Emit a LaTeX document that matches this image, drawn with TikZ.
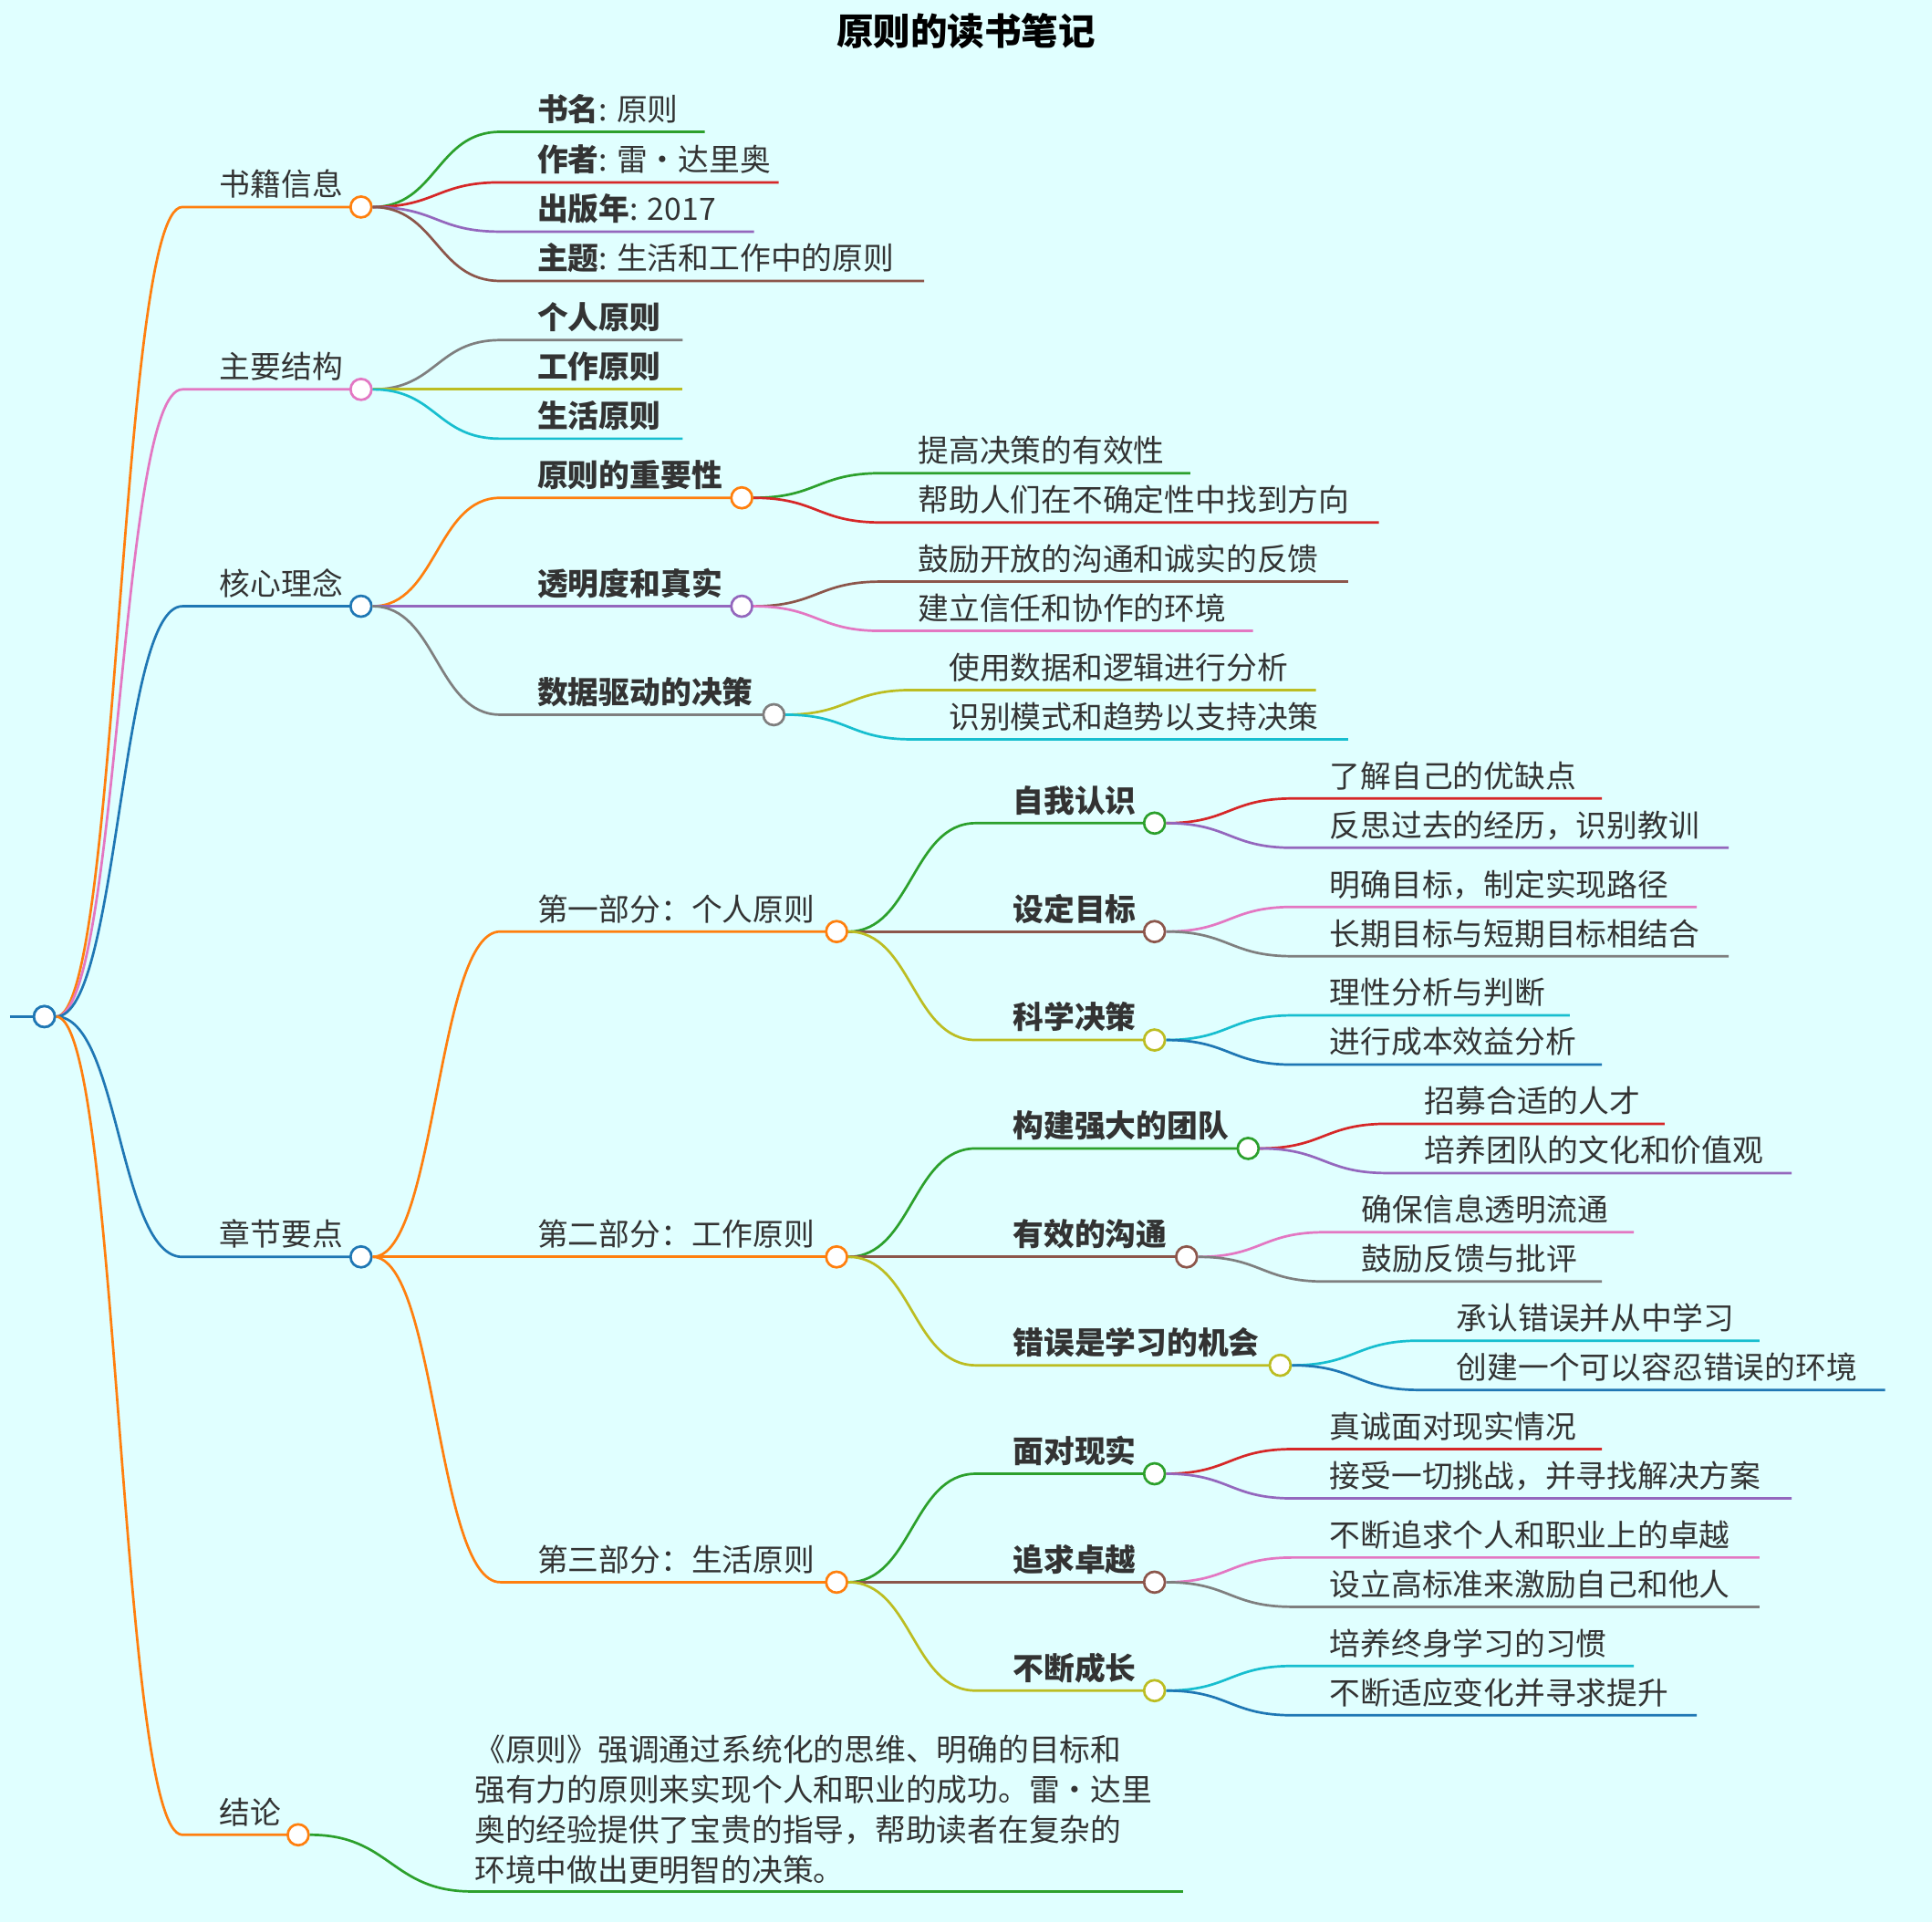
\documentclass[tikz,border=0pt]{standalone}
\usepackage{fontspec}
\setmainfont{Noto Sans CJK SC}
\usetikzlibrary{calc}
\definecolor{cb}{HTML}{1F77B4}\definecolor{co}{HTML}{FF7F0E}\definecolor{cg}{HTML}{2CA02C}
\definecolor{cr}{HTML}{D62728}\definecolor{cp}{HTML}{9467BD}\definecolor{cn}{HTML}{8C564B}
\definecolor{ck}{HTML}{E377C2}\definecolor{cy}{HTML}{7F7F7F}\definecolor{cl}{HTML}{BCBD22}
\definecolor{cc}{HTML}{17BECF}\definecolor{bg}{HTML}{E0FFFF}\definecolor{tx}{HTML}{333333}
\tikzset{edge/.style={line width=2pt},
 txt/.style={inner sep=0pt,font=\fontsize{25}{28}\selectfont,text=tx},
 dot/.style={circle,draw,fill=white,line width=2pt,minimum size=17pt,inner sep=0pt}}
% #1 parent #2 name #3 text x #4 y #5 end x #6 colour #7 text
\newcommand\br[7]{%
 \coordinate (#2u) at (#3-30,#4);
 \draw[edge,#6] let \p1=(#1.east), \p2=(#2u) in (\p1) .. controls ({(\x1+\x2)/2},\y1) and ({(\x1+\x2)/2},\y2) .. (\p2) -- (#5,#4);
 \node[txt,anchor=base west] (#2) at (#3,#4-9) {#7};}
\newcommand\brc[7]{%
 \br{#1}{#2}{#3}{#4}{#5}{#6}{#7}
 \node[dot,draw=#6] (#2c) at (#5,#4) {};}
\begin{document}
\begin{tikzpicture}[x=1pt,y=-1pt]
\fill[bg] (0,0) rectangle (1568,1560);
\useasboundingbox (0,0) rectangle (1568,1560);
\node[font=\fontsize{30}{34}\selectfont\bfseries] (title) at (784,25) {原则的读书笔记};
\coordinate (rl) at (8,825);
\draw[edge,cb] (rl) -- (36,825);
\node[dot,draw=cb] (root) at (36,825) {};
% level 1
\brc{root}{a}{178}{168}{293}{co}{书籍信息}
\brc{root}{b}{178}{316}{293}{ck}{主要结构}
\brc{root}{c}{178}{492}{293}{cb}{核心理念}
\brc{root}{d}{178}{1020}{293}{cb}{章节要点}
\brc{root}{e}{178}{1489}{242}{co}{结论}
\node[dot,draw=cb] at (root) {};
% 书籍信息
\br{ac}{a1}{436}{107}{572}{cg}{\textbf{书名}: 原则}
\br{ac}{a2}{436}{148}{632}{cr}{\textbf{作者}: 雷·达里奥}
\br{ac}{a3}{436}{188}{612}{cp}{\textbf{出版年}: 2017}
\br{ac}{a4}{436}{228}{750}{cn}{\textbf{主题}: 生活和工作中的原则}
% 主要结构
\br{bc}{b1}{436}{276}{554}{cy}{\textbf{个人原则}}
\br{bc}{b2}{436}{316}{554}{cl}{\textbf{工作原则}}
\br{bc}{b3}{436}{356}{554}{cc}{\textbf{生活原则}}
% 核心理念
\brc{cc}{c1}{436}{404}{602}{co}{\textbf{原则的重要性}}
\brc{cc}{c2}{436}{492}{602}{cp}{\textbf{透明度和真实}}
\brc{cc}{c3}{436}{580}{628}{cy}{\textbf{数据驱动的决策}}
\br{c1c}{c11}{745}{384}{966}{cg}{提高决策的有效性}
\br{c1c}{c12}{745}{424}{1119}{cr}{帮助人们在不确定性中找到方向}
\br{c2c}{c21}{745}{472}{1094}{cn}{鼓励开放的沟通和诚实的反馈}
\br{c2c}{c22}{745}{512}{1017}{ck}{建立信任和协作的环境}
\br{c3c}{c31}{770}{560}{1068}{cl}{使用数据和逻辑进行分析}
\br{c3c}{c32}{770}{600}{1094}{cc}{识别模式和趋势以支持决策}
% 章节要点
\brc{dc}{d1}{436}{756}{679}{co}{第一部分：个人原则}
\brc{dc}{d2}{436}{1020}{679}{co}{第二部分：工作原则}
\brc{dc}{d3}{436}{1284}{679}{co}{第三部分：生活原则}
\brc{d1c}{p1}{822}{668}{937}{cg}{\textbf{自我认识}}
\brc{d1c}{p2}{822}{756}{937}{cn}{\textbf{设定目标}}
\brc{d1c}{p3}{822}{844}{937}{cl}{\textbf{科学决策}}
\br{p1c}{p11}{1079}{648}{1300}{cr}{了解自己的优缺点}
\br{p1c}{p12}{1079}{688}{1403}{cp}{反思过去的经历，识别教训}
\br{p2c}{p21}{1079}{736}{1377}{ck}{明确目标，制定实现路径}
\br{p2c}{p22}{1079}{776}{1403}{cy}{长期目标与短期目标相结合}
\br{p3c}{p31}{1079}{824}{1274}{cc}{理性分析与判断}
\br{p3c}{p32}{1079}{864}{1300}{cb}{进行成本效益分析}
\brc{d2c}{w1}{822}{932}{1013}{cg}{\textbf{构建强大的团队}}
\brc{d2c}{w2}{822}{1020}{963}{cn}{\textbf{有效的沟通}}
\brc{d2c}{w3}{822}{1108}{1039}{cl}{\textbf{错误是学习的机会}}
\br{w1c}{w11}{1156}{912}{1351}{cr}{招募合适的人才}
\br{w1c}{w12}{1156}{952}{1454}{cp}{培养团队的文化和价值观}
\br{w2c}{w21}{1105}{1000}{1326}{ck}{确保信息透明流通}
\br{w2c}{w22}{1105}{1040}{1300}{cy}{鼓励反馈与批评}
\br{w3c}{w31}{1182}{1088}{1428}{cc}{承认错误并从中学习}
\br{w3c}{w32}{1182}{1128}{1530}{cb}{创建一个可以容忍错误的环境}
\brc{d3c}{l1}{822}{1196}{937}{cg}{\textbf{面对现实}}
\brc{d3c}{l2}{822}{1284}{937}{cn}{\textbf{追求卓越}}
\brc{d3c}{l3}{822}{1372}{937}{cl}{\textbf{不断成长}}
\br{l1c}{l11}{1079}{1176}{1300}{cr}{真诚面对现实情况}
\br{l1c}{l12}{1079}{1216}{1454}{cp}{接受一切挑战，并寻找解决方案}
\br{l2c}{l21}{1079}{1264}{1428}{ck}{不断追求个人和职业上的卓越}
\br{l2c}{l22}{1079}{1304}{1428}{cy}{设立高标准来激励自己和他人}
\br{l3c}{l31}{1079}{1352}{1326}{cc}{培养终身学习的习惯}
\br{l3c}{l32}{1079}{1392}{1377}{cb}{不断适应变化并寻求提升}
% 结论
\coordinate (e1u) at (383,1535);
\draw[edge,cg] let \p1=(ec.east), \p2=(e1u) in (\p1) .. controls ({(\x1+\x2)/2},\y1) and ({(\x1+\x2)/2},\y2) .. (\p2) -- (960,1535);
\node[txt,anchor=north west,align=left,font=\fontsize{25}{32.5}\selectfont] (e1) at (385,1408) {《原则》强调通过系统化的思维、明确的目标和\\强有力的原则来实现个人和职业的成功。雷·达里\\奥的经验提供了宝贵的指导，帮助读者在复杂的\\环境中做出更明智的决策。};
\end{tikzpicture}
\end{document}
